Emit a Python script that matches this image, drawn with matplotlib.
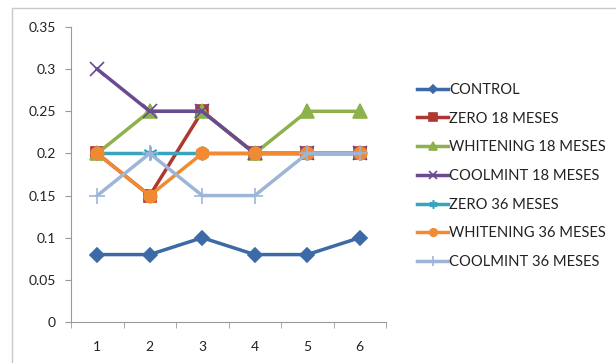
import matplotlib.pyplot as plt
from matplotlib.patches import Rectangle

# muestras medidas en 6 tiempos
x = [1, 2, 3, 4, 5, 6]

control = [0.08, 0.08, 0.10, 0.08, 0.08, 0.10]
zero_18 = [0.20, 0.15, 0.25, 0.20, 0.20, 0.20]
whitening_18 = [0.20, 0.25, 0.25, 0.20, 0.25, 0.25]
coolmint_18 = [0.30, 0.25, 0.25, 0.20, 0.20, 0.20]
zero_36 = [0.20, 0.20, 0.20, 0.20, 0.20, 0.20]
whitening_36 = [0.20, 0.15, 0.20, 0.20, 0.20, 0.20]
coolmint_36 = [0.15, 0.20, 0.15, 0.15, 0.20, 0.20]

series = [
    ('CONTROL', control, '#3b6aa6', 'D', 7),
    ('ZERO 18 MESES', zero_18, '#b0372f', 's', 9),
    ('WHITENING 18 MESES', whitening_18, '#8db24c', '^', 10),
    ('COOLMINT 18 MESES', coolmint_18, '#6a4b91', 'x', 10),
    ('ZERO 36 MESES', zero_36, '#38a4bd', (6, 2, 0), 10),
    ('WHITENING 36 MESES', whitening_36, '#f08b33', 'o', 9),
    ('COOLMINT 36 MESES', coolmint_36, '#9db6d8', '+', 12),
]

plt.rcParams['font.family'] = 'Lato'

fig = plt.figure(figsize=(6.16, 3.63), dpi=100)
fig.patches.append(Rectangle((12 / 616, -0.01), 1.0, 1 - 8 / 363 + 0.01,
                             transform=fig.transFigure, fill=False,
                             edgecolor='#c8c8c8', linewidth=1))

ax = fig.add_axes([71 / 616, 1 - 322 / 363, (386 - 71) / 616, (322 - 27) / 363])

for name, vals, color, marker, size in series:
    ax.plot(x, vals, color=color, linewidth=2.5, marker=marker,
            markersize=size, markeredgewidth=1.2, label=name)

ax.set_xlim(0.5, 6.5)
ax.set_ylim(0, 0.35)
ax.set_yticks([0, 0.05, 0.1, 0.15, 0.2, 0.25, 0.3, 0.35])
ax.set_yticklabels(['0', '0.05', '0.1', '0.15', '0.2', '0.25', '0.3', '0.35'])
ax.set_xticks(x)
ax.set_xticks([0.5, 1.5, 2.5, 3.5, 4.5, 5.5, 6.5], minor=True)
ax.tick_params(axis='x', which='major', length=0, pad=14)
ax.tick_params(axis='x', which='minor', length=4, color='#999999')
ax.tick_params(axis='y', length=4, color='#999999', pad=7)
ax.tick_params(labelsize=10, labelcolor='#222222')

for side in ['top', 'right']:
    ax.spines[side].set_visible(False)
for side in ['left', 'bottom']:
    ax.spines[side].set_color('#999999')

leg = ax.legend(loc='center left', bbox_to_anchor=(404 / 616, 1 - 176 / 363),
                bbox_transform=fig.transFigure, frameon=False, fontsize=10.6,
                handlelength=2.1, handletextpad=0.05, labelspacing=1.0,
                markerscale=0.6)
for t in leg.get_texts():
    t.set_color('#222222')

fig.savefig('out.png', dpi=100)
